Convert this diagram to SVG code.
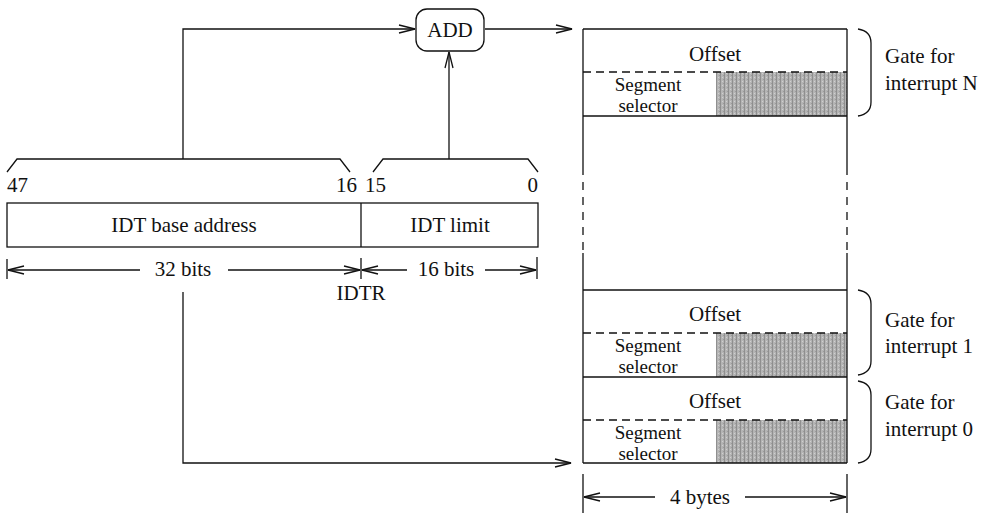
<svg xmlns="http://www.w3.org/2000/svg" width="1002" height="518" viewBox="0 0 1002 518" font-family="'Liberation Serif', 'DejaVu Serif', 'Times New Roman', serif">
<style>
  text { font-family: "Liberation Serif", "DejaVu Serif", "Times New Roman", serif; font-size: 21px; fill: #111; }
  .seg { font-size: 19px; }
  .ln { stroke: #111; stroke-width: 1.3; fill: none; }
  .dash { stroke: #111; stroke-width: 1.3; fill: none; stroke-dasharray: 8 5; }
  .vdash { stroke: #111; stroke-width: 1.3; fill: none; stroke-dasharray: 8 7; }
  .shade { fill: url(#stip); }
  .mid { text-anchor: middle; }
  .end { text-anchor: end; }
</style>
<defs>
  <pattern id="stip" width="4" height="4" patternUnits="userSpaceOnUse">
    <rect width="4" height="4" fill="#b4b4b4"/>
    <rect x="0" y="0" width="1" height="4" fill="#8f8f8f"/>
    <rect x="2" y="1" width="1" height="1" fill="#d0d0d0"/>
    <rect x="3" y="3" width="1" height="1" fill="#9a9a9a"/>
  </pattern>
  <marker id="arr" viewBox="0 0 18 10" refX="17" refY="5" markerWidth="18" markerHeight="10" markerUnits="userSpaceOnUse" orient="auto-start-reverse">
    <path d="M1,1 L17,5 L1,9" fill="none" stroke="#111" stroke-width="1.3"/>
  </marker>
</defs>

<g id="connectors">
  <path class="ln" d="M183,159 V29 H415" marker-end="url(#arr)"/>
  <path class="ln" d="M449,159 V52" marker-end="url(#arr)" stroke-width="1.6"/>
  <path class="ln" d="M485,29 H572" marker-end="url(#arr)"/>
  <path class="ln" d="M183,292 V463 H571" marker-end="url(#arr)"/>
</g>

<g id="add">
  <rect class="ln" x="416" y="9" width="68" height="42" rx="11"/>
  <text class="mid" x="450" y="37">ADD</text>
</g>

<g id="idtr">
  <path class="ln" d="M7,172 L17,159 H340 L350,172"/>
  <path class="ln" d="M373,172 L383,159 H528 L538,172"/>
  <text x="7" y="192">47</text>
  <text class="end" x="357" y="192">16</text>
  <text x="365" y="192">15</text>
  <text class="end" x="538" y="192">0</text>
  <rect class="ln" x="7" y="203" width="531" height="44"/>
  <line class="ln" x1="361" y1="203" x2="361" y2="247"/>
  <text class="mid" x="184" y="232">IDT base address</text>
  <text class="mid" x="450" y="232">IDT limit</text>
  <line class="ln" x1="7" y1="259" x2="7" y2="279"/>
  <line class="ln" x1="361" y1="258" x2="361" y2="279"/>
  <line class="ln" x1="537" y1="257" x2="537" y2="279"/>
  <path class="ln" d="M140,270 H8" marker-end="url(#arr)"/>
  <path class="ln" d="M228,270 H360" marker-end="url(#arr)"/>
  <text class="mid" x="183" y="276">32 bits</text>
  <path class="ln" d="M407,270 H362" marker-end="url(#arr)"/>
  <path class="ln" d="M485,270 H536" marker-end="url(#arr)"/>
  <text class="mid" x="446" y="276">16 bits</text>
  <text class="mid" x="361" y="300">IDTR</text>
</g>

<g id="idt">
  <rect class="shade" x="716" y="72" width="131" height="44"/>
  <rect class="shade" x="716" y="333" width="131" height="44"/>
  <rect class="shade" x="716" y="420" width="131" height="43"/>
  <line class="ln" x1="583" y1="29" x2="847" y2="29"/>
  <line class="ln" x1="583" y1="116" x2="847" y2="116"/>
  <line class="ln" x1="583" y1="290" x2="847" y2="290"/>
  <line class="ln" x1="583" y1="377" x2="847" y2="377"/>
  <line class="ln" x1="583" y1="463" x2="847" y2="463"/>
  <line class="dash" x1="583" y1="72" x2="847" y2="72"/>
  <line class="dash" x1="583" y1="333" x2="847" y2="333"/>
  <line class="dash" x1="583" y1="420" x2="847" y2="420"/>
  <path class="ln" d="M583,29 V167 M847,29 V167 M583,253 V463 M847,253 V463"/>
  <path class="vdash" d="M583,167 V253 M847,167 V253"/>
  <text class="mid" x="715" y="61">Offset</text>
  <text class="mid seg" x="648" y="91">Segment</text>
  <text class="mid seg" x="648" y="112">selector</text>
  <text class="mid" x="715" y="321">Offset</text>
  <text class="mid seg" x="648" y="352">Segment</text>
  <text class="mid seg" x="648" y="373">selector</text>
  <text class="mid" x="715" y="408">Offset</text>
  <text class="mid seg" x="648" y="439">Segment</text>
  <text class="mid seg" x="648" y="460">selector</text>
</g>

<g id="gateN">
  <path class="ln" d="M858,29 Q871,31 871,43 V102 Q871,114 858,116"/>
  <text x="885" y="63">Gate for</text>
  <text x="885" y="90">interrupt N</text>
</g>
<g id="gate1">
  <path class="ln" d="M858,290 Q871,292 871,304 V361 Q871,373 858,375"/>
  <text x="885" y="327">Gate for</text>
  <text x="885" y="353">interrupt 1</text>
</g>
<g id="gate0">
  <path class="ln" d="M858,381 Q871,383 871,395 V449 Q871,461 858,463"/>
  <text x="885" y="409">Gate for</text>
  <text x="885" y="436">interrupt 0</text>
</g>

<g id="width">
  <line class="ln" x1="583" y1="474" x2="583" y2="513"/>
  <line class="ln" x1="847" y1="474" x2="847" y2="513"/>
  <path class="ln" d="M655,497 H584" marker-end="url(#arr)"/>
  <path class="ln" d="M745,497 H846" marker-end="url(#arr)"/>
  <text class="mid" x="700" y="504">4 bytes</text>
</g>
</svg>
